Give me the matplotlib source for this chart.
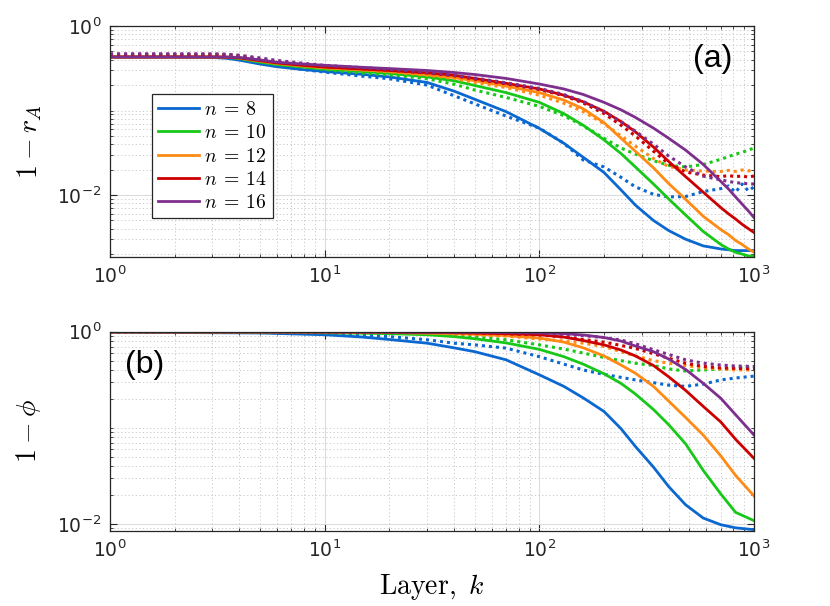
import numpy as np
import matplotlib
matplotlib.use("Agg")
import matplotlib.pyplot as plt
from matplotlib.ticker import FixedLocator, LogLocator, NullFormatter, LogFormatterSciNotation

plt.rcParams['mathtext.fontset'] = 'cm'
plt.rcParams['font.family'] = ['DejaVu Sans']

# ---------------- data ----------------
n_values = [8, 10, 12, 14, 16]
colors = ['#0a68d0', '#18c818', '#ff8a14', '#cc0000', '#7e2f8e']

# panel (a): 1 - r_A   (solid and dotted series per n)
k_top = [1, 2, 3, 3.5, 4, 5, 6, 8, 10, 15, 20, 30, 40, 50, 70, 100, 130, 160, 200, 240,
         280, 340, 400, 480, 580, 700, 760, 820, 880, 940, 1000]

rA_solid_8 = [.43, .43, .425, .415, .395, .355, .33, .305, .29, .268, .25, .215, .17, .136, .097,
              .0615, .041, .028, .0185, .0115, .0076, .0050, .0038, .0030, .0025, .0023, .00225,
              .0022, .0022, .0022, .0022]
rA_solid_10 = [.43, .43, .43, .425, .412, .375, .35, .326, .31, .29, .275, .25, .225, .198, .163,
               .125, .092, .067, .045, .031, .0215, .0135, .009, .0058, .0037, .0026, .0023,
               .0021, .0020, .0019, .0019]
rA_solid_12 = [.43, .43, .43, .428, .418, .385, .36, .336, .32, .302, .29, .265, .245, .225, .195,
               .163, .133, .105, .072, .047, .033, .021, .0137, .0089, .0056, .0039, .0034,
               .0029, .0026, .0023, .0021]
rA_solid_14 = [.43, .43, .43, .428, .42, .39, .366, .342, .327, .31, .298, .28, .262, .24, .21,
               .18, .152, .127, .098, .074, .056, .037, .025, .0165, .0108, .0071, .0060,
               .0052, .0045, .0040, .0036]
rA_solid_16 = [.43, .43, .43, .43, .425, .398, .373, .355, .343, .325, .314, .298, .282, .267, .24,
               .206, .18, .155, .125, .102, .083, .062, .047, .034, .023, .0145, .0118,
               .0095, .0078, .0065, .0054]

rA_dot_8 = [.455, .455, .45, .44, .415, .365, .337, .305, .285, .255, .238, .20, .15, .12, .086,
            .062, .041, .026, .0215, .0162, .0125, .0102, .0095, .0096, .011, .0119, .0128,
            .0108, .0135, .0112, .0125]
rA_dot_10 = [.455, .455, .455, .45, .432, .388, .362, .333, .305, .278, .265, .238, .205, .175, .143,
             .112, .087, .066, .047, .036, .0305, .0255, .0225, .0215, .023, .0265, .0285,
             .0305, .032, .034, .036]
rA_dot_12 = [.455, .455, .455, .452, .44, .40, .372, .347, .323, .303, .288, .262, .24, .215, .187,
             .152, .122, .097, .07, .05, .038, .027, .0218, .0198, .0192, .019, .0196,
             .019, .0198, .0193, .020]
rA_dot_14 = [.46, .46, .46, .457, .445, .405, .377, .352, .332, .312, .30, .278, .258, .235, .207,
             .177, .15, .123, .092, .067, .05, .033, .0235, .0188, .0172, .0165, .017,
             .0165, .0168, .0163, .0168]
rA_dot_16 = [.47, .47, .47, .465, .452, .42, .392, .362, .342, .322, .307, .283, .262, .243, .213,
             .183, .155, .128, .097, .074, .057, .040, .029, .0215, .0167, .0151, .0145,
             .014, .0138, .0136, .0135]

# panel (b): 1 - phi
k_bot = [1, 5, 10, 15, 20, 30, 40, 50, 70, 100, 130, 160, 200, 240, 280, 340, 400, 480, 580,
         700, 820, 1000]

phi_solid_8 = [.99, .97, .93, .88, .83, .76, .68, .62, .51, .356, .27, .205, .148, .098, .064,
               .039, .0245, .0158, .0115, .0098, .0091, .0087]
phi_solid_10 = [.995, .99, .975, .965, .955, .93, .89, .845, .765, .655, .55, .46, .365, .29, .225,
                .155, .108, .068, .036, .0205, .0132, .0108]
phi_solid_12 = [.997, .995, .99, .985, .98, .97, .955, .94, .91, .86, .78, .68, .56, .45, .37,
                .27, .19, .128, .084, .051, .032, .0195]
phi_solid_14 = [.998, .997, .995, .993, .99, .985, .978, .97, .955, .93, .88, .81, .73, .645, .56,
                .445, .34, .245, .167, .115, .076, .048]
phi_solid_16 = [.998, .998, .997, .996, .995, .994, .993, .992, .99, .975, .955, .925, .87, .80, .71,
                .62, .52, .405, .29, .203, .137, .084]

phi_dot_8 = [.995, .985, .955, .92, .89, .825, .76, .73, .675, .55, .46, .40, .36, .335, .315,
             .295, .278, .27, .285, .315, .33, .345]
phi_dot_10 = [.995, .993, .99, .985, .975, .95, .92, .88, .825, .73, .66, .60, .54, .50, .47,
              .445, .41, .39, .40, .41, .42, .43]
phi_dot_12 = [.997, .996, .995, .99, .985, .97, .95, .935, .90, .84, .80, .76, .70, .62, .56,
              .50, .47, .445, .42, .41, .40, .40]
phi_dot_14 = [.998, .998, .997, .994, .99, .985, .977, .968, .95, .925, .88, .83, .78, .72, .67,
              .59, .53, .47, .435, .42, .415, .41]
phi_dot_16 = [.999, .999, .998, .997, .995, .992, .988, .985, .978, .97, .94, .91, .87, .82, .75,
              .65, .58, .51, .47, .45, .44, .435]

rA_solid = [rA_solid_8, rA_solid_10, rA_solid_12, rA_solid_14, rA_solid_16]
rA_dot = [rA_dot_8, rA_dot_10, rA_dot_12, rA_dot_14, rA_dot_16]
phi_solid = [phi_solid_8, phi_solid_10, phi_solid_12, phi_solid_14, phi_solid_16]
phi_dot = [phi_dot_8, phi_dot_10, phi_dot_12, phi_dot_14, phi_dot_16]

# ---------------- figure ----------------
fig = plt.figure(figsize=(8.30, 6.06), dpi=100)
ax1 = fig.add_axes([0.1325, 0.576, 0.776, 0.381])
ax2 = fig.add_axes([0.1325, 0.1243, 0.776, 0.3283])

dot_style = (0, (1.0, 1.3))
edge = '#262626'
tick_fs = 13.5


def style_axes(ax, ylim):
    ax.set_xscale('log')
    ax.set_yscale('log')
    ax.set_xlim(1, 1000)
    ax.set_ylim(*ylim)
    ax.xaxis.set_major_locator(FixedLocator([1, 10, 100, 1000]))
    ax.yaxis.set_major_locator(FixedLocator([1e-2, 1e0]))
    ax.xaxis.set_minor_locator(LogLocator(base=10, subs=np.arange(1, 10), numticks=20))
    ax.yaxis.set_minor_locator(LogLocator(base=10, subs=np.arange(1, 10), numticks=20))
    ax.xaxis.set_minor_formatter(NullFormatter())
    ax.yaxis.set_minor_formatter(NullFormatter())
    ax.xaxis.set_major_formatter(LogFormatterSciNotation())
    ax.yaxis.set_major_formatter(LogFormatterSciNotation())
    ax.grid(True, which='major', color='#dcdcdc', lw=0.8, ls='-')
    ax.grid(True, which='minor', color='#c8c8c8', lw=0.7, ls=(0, (1.2, 2.5)))
    ax.set_axisbelow(True)
    ax.tick_params(which='both', direction='in', top=True, right=True, colors=edge,
                   labelsize=tick_fs, labelcolor='#262626')
    ax.tick_params(which='major', length=5, width=0.8, pad=6)
    ax.tick_params(which='minor', length=2.5, width=0.6)
    for s in ax.spines.values():
        s.set_color(edge)
        s.set_linewidth(0.9)


style_axes(ax1, (0.00185, 1.0))
style_axes(ax2, (0.0085, 1.0))

handles = []
for i, n in enumerate(n_values):
    h, = ax1.plot(k_top, rA_solid[i], color=colors[i], lw=2.0, label=r'$n\:=\:%d$' % n)
    handles.append(h)
    ax1.plot(k_top, rA_dot[i], color=colors[i], lw=2.2, ls=dot_style)
    ax2.plot(k_bot, phi_solid[i], color=colors[i], lw=2.0)
    ax2.plot(k_bot, phi_dot[i], color=colors[i], lw=2.2, ls=dot_style)

leg = ax1.legend(handles=handles, loc='upper left', bbox_to_anchor=(0.0652, 0.7056),
                 borderaxespad=0, fontsize=14.2, handlelength=2.1, handletextpad=0.25,
                 labelspacing=0.22, borderpad=0.3, fancybox=False, framealpha=1,
                 edgecolor=edge)
leg.get_frame().set_linewidth(0.9)

ax1.set_ylabel(r'$1\:-\:r_A$', fontsize=20)
ax2.set_ylabel(r'$1\:-\:\phi$', fontsize=20)
ax2.set_xlabel(r'$\mathrm{Layer,}\ k$', fontsize=20, labelpad=8)
ax1.yaxis.set_label_coords(-0.103, 0.5)
ax2.yaxis.set_label_coords(-0.104, 0.5)

ax1.text(0.967, 0.859, '(a)', transform=ax1.transAxes, fontsize=23, ha='right',
         va='center', color='black', family=['Liberation Sans', 'DejaVu Sans'])
ax2.text(0.023, 0.833, '(b)', transform=ax2.transAxes, fontsize=23, ha='left',
         va='center', color='black', family=['Liberation Sans', 'DejaVu Sans'])

fig.savefig('out.png', dpi=100, facecolor='white')
